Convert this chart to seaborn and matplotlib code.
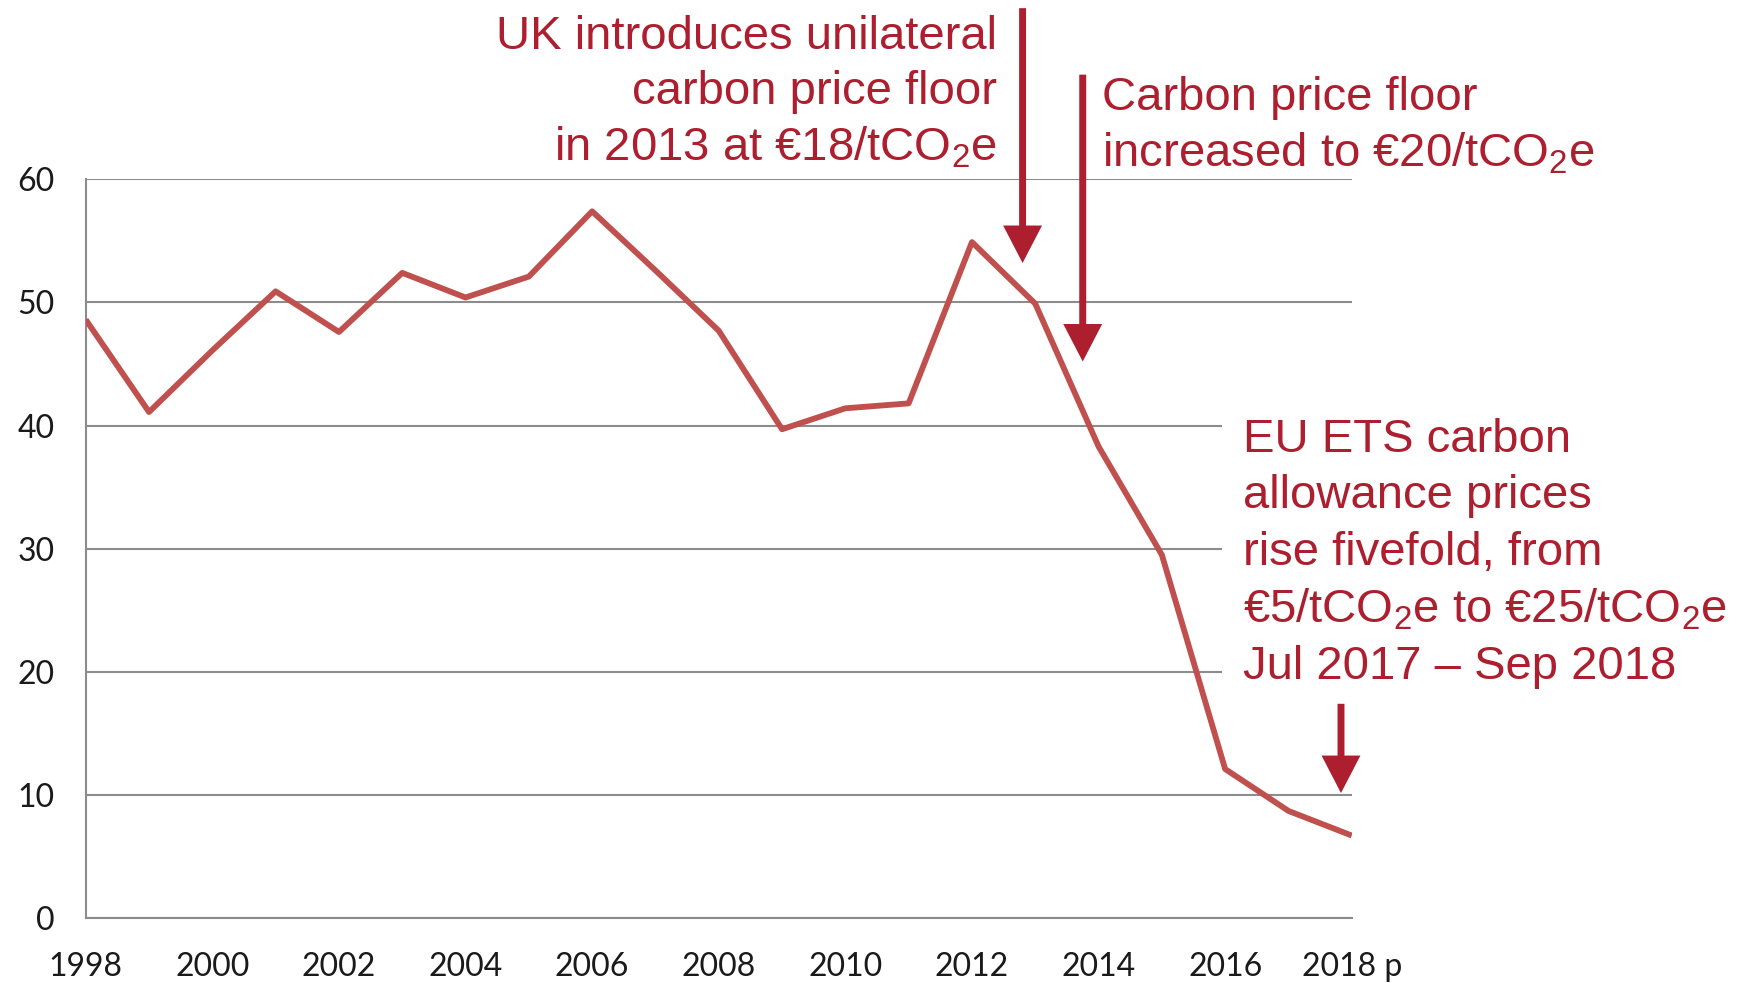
import matplotlib
matplotlib.use("Agg")
import matplotlib.pyplot as plt
import pandas as pd
import seaborn as sns
from matplotlib.patches import FancyArrowPatch

years = list(range(1998, 2019))
prices = [48.6, 41.1, 46.1, 50.9, 47.6, 52.4, 50.4, 52.1, 57.4, 52.6, 47.7,
          39.7, 41.4, 41.8, 54.9, 49.9, 38.3, 29.5, 12.1, 8.7, 6.7]
year_labels = [str(y) if y % 2 == 0 else "" for y in years]
year_labels[-1] = "2018 p"
y_ticks = [0, 10, 20, 30, 40, 50, 60]

notes = [
    "UK introduces unilateral\ncarbon price floor\nin 2013 at €18/tCO$_2$e",
    "Carbon price floor\nincreased to €20/tCO$_2$e",
    "EU ETS carbon\nallowance prices\nrise fivefold, from\n€5/tCO$_2$e to €25/tCO$_2$e\nJul 2017 – Sep 2018",
]
# arrows: (x, start y, tip y) in data units
arrows = [(2012.8, 73.9, 53.2), (2013.75, 68.5, 45.2), (2017.83, 17.4, 10.15)]

LINE_RED = "#C0504D"
NOTE_RED = "#AD1E2F"
GREY = "#8C8C8C"

sns.set_theme(style="white")
plt.rcParams["font.family"] = ["Lato", "DejaVu Sans"]
plt.rcParams["mathtext.fontset"] = "custom"
plt.rcParams["mathtext.rm"] = "Liberation Sans"
plt.rcParams["mathtext.it"] = "Liberation Sans"
plt.rcParams["mathtext.default"] = "regular"

df = pd.DataFrame({"year": years, "price": prices})

fig = plt.figure(figsize=(17.46, 9.83), dpi=100)
ax = fig.add_axes([0.0491, 0.0661, 0.7251, 0.7515])

sns.lineplot(data=df, x="year", y="price", color=LINE_RED, lw=4.2, ax=ax,
             zorder=3, solid_capstyle="butt")

ax.set_xlim(1998, 2018)
ax.set_ylim(0, 60)
ax.set_xticks(years)
ax.set_xticklabels(year_labels)
ax.set_yticks(y_ticks)
ax.set_xlabel("")
ax.set_ylabel("")

ax.set_axisbelow(True)
ax.yaxis.grid(True, color=GREY, lw=1.5)
ax.xaxis.grid(False)
for side in ["top", "right"]:
    ax.spines[side].set_visible(False)
for side in ["left", "bottom"]:
    ax.spines[side].set_color(GREY)
    ax.spines[side].set_linewidth(1.5)
ax.tick_params(axis="both", direction="out", length=8.6, width=1.4,
               color=GREY, labelsize=23, labelcolor="#1a1a1a")
ax.tick_params(axis="x", pad=16)
ax.tick_params(axis="y", pad=14)

text_kw = dict(color=NOTE_RED, fontsize=34, family="Liberation Sans",
               clip_on=False)
ax.text(2012.39, 61.5, notes[0], ha="right", va="baseline", zorder=2.5,
        linespacing=1.32, **text_kw)
ax.text(2014.06, 61.0, notes[1], ha="left", va="baseline", zorder=2.5,
        linespacing=1.32, **text_kw)
ax.text(2016.28, 19.4, notes[2], ha="left", va="baseline", zorder=2.5,
        linespacing=1.36,
        bbox=dict(facecolor="white", edgecolor="none", boxstyle="square,pad=0.45"),
        **text_kw)

for x, y0, y1 in arrows:
    arr = FancyArrowPatch((x, y0), (x, y1),
                          arrowstyle="simple,head_length=27,head_width=28,tail_width=5",
                          mutation_scale=1, color=NOTE_RED, lw=0,
                          shrinkA=0, shrinkB=0, clip_on=False, zorder=5)
    ax.add_patch(arr)

fig.savefig("out.png", dpi=100)
